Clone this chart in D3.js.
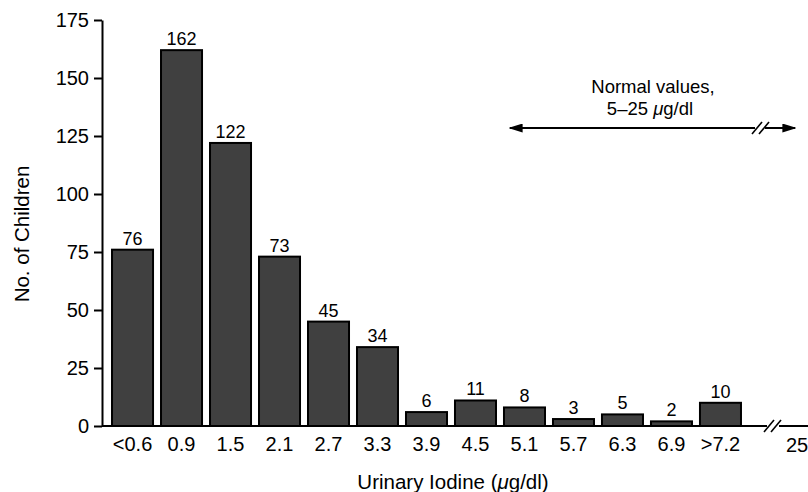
<!DOCTYPE html>
<html lang="en">
<head>
	<meta charset="utf-8">
	<title>Urinary iodine histogram</title>
	<script src="https://cdn.jsdelivr.net/npm/d3@7"></script>
	<style>
		body { margin: 0; background: #fff; }
		text { font-family: "Liberation Sans", Arial, Helvetica, sans-serif; fill: #000; }
	</style>
</head>
<body>
	<script>
  // chart data
  var categories = ["<0.6", "0.9", "1.5", "2.1", "2.7", "3.3", "3.9", "4.5", "5.1", "5.7", "6.3", "6.9", ">7.2"];
  var counts = [76, 162, 122, 73, 45, 34, 6, 11, 8, 3, 5, 2, 10];
  var yTicks = [0, 25, 50, 75, 100, 125, 150, 175];
  var breakLabel = "25";

  var width = 808;
  var height = 492;

  var svg = d3.select( "body" )
      .append( "svg" )
      .attr( "width", width )
      .attr( "height", height );

  var y = d3.scaleLinear()
    .domain( [0, 175] )
    .range( [426, 20] );

  var x = d3.scaleBand()
    .domain( categories )
    .range( [108, 745] )
    .paddingInner( 0.163 )
    .paddingOuter( 0.082 );

  // y axis
  var yAxis = svg.append( "g" )
    .attr( "transform", "translate(102,0)" )
    .call( d3.axisLeft( y ).tickValues( yTicks ).tickSize( 8 ).tickSizeOuter( 0 ).tickPadding( 5 ) );
  yAxis.selectAll( "path, line" ).attr( "stroke", "#000" ).attr( "stroke-width", 2 );
  yAxis.selectAll( "text" ).attr( "font-size", 20 ).attr( "font-family", null );

  // bars
  svg.append( "g" )
    .selectAll( "rect" )
    .data( counts )
    .enter()
    .append( "rect" )
    .attr( "x", function( d, i ) { return x( categories[i] ); } )
    .attr( "y", function( d ) { return y( d ); } )
    .attr( "width", x.bandwidth() )
    .attr( "height", function( d ) { return y( 0 ) - y( d ); } )
    .attr( "fill", "#404040" )
    .attr( "stroke", "#000" )
    .attr( "stroke-width", 2 );

  // value labels
  svg.append( "g" )
    .selectAll( "text" )
    .data( counts )
    .enter()
    .append( "text" )
    .attr( "x", function( d, i ) { return x( categories[i] ) + x.bandwidth() / 2; } )
    .attr( "y", function( d ) { return y( d ) - 5; } )
    .attr( "text-anchor", "middle" )
    .attr( "font-size", 18 )
    .text( function( d ) { return d; } );

  // x axis with a break before the last tick
  var xBreak = 772;
  var xAxis = svg.append( "g" )
    .attr( "transform", "translate(0,426)" )
    .call( d3.axisBottom( x ).tickSize( 0 ).tickPadding( 11 ) );
  xAxis.select( ".domain" ).remove();
  xAxis.selectAll( "text" ).attr( "font-size", 20 ).attr( "font-family", null );

  svg.append( "line" )
    .attr( "x1", 102 ).attr( "x2", xBreak - 5 )
    .attr( "y1", y( 0 ) ).attr( "y2", y( 0 ) )
    .attr( "stroke", "#000" ).attr( "stroke-width", 2 );
  svg.append( "line" )
    .attr( "x1", xBreak + 7 ).attr( "x2", width )
    .attr( "y1", y( 0 ) ).attr( "y2", y( 0 ) )
    .attr( "stroke", "#000" ).attr( "stroke-width", 2 );
  [-3, 4].forEach( function( dx ) {
    svg.append( "line" )
      .attr( "x1", xBreak + dx - 5 ).attr( "y1", y( 0 ) + 6 )
      .attr( "x2", xBreak + dx + 5 ).attr( "y2", y( 0 ) - 6 )
      .attr( "stroke", "#000" ).attr( "stroke-width", 1.6 );
  } );
  svg.append( "text" )
    .attr( "x", 797 ).attr( "y", 452 )
    .attr( "text-anchor", "middle" )
    .attr( "font-size", 20 )
    .text( breakLabel );

  // axis titles
  var xTitle = svg.append( "text" )
    .attr( "x", 453 ).attr( "y", 489 )
    .attr( "text-anchor", "middle" )
    .attr( "font-size", 20.5 );
  xTitle.append( "tspan" ).text( "Urinary Iodine (" );
  xTitle.append( "tspan" ).attr( "font-style", "italic" ).text( "\u03bc" );
  xTitle.append( "tspan" ).text( "g/dl)" );

  svg.append( "text" )
    .attr( "transform", "translate(29,234) rotate(-90)" )
    .attr( "text-anchor", "middle" )
    .attr( "font-size", 20.5 )
    .text( "No. of Children" );

  // normal range annotation
  var ay = 128;
  svg.append( "defs" ).append( "marker" )
    .attr( "id", "head" )
    .attr( "viewBox", "0 0 10 10" )
    .attr( "refX", 9 ).attr( "refY", 5 )
    .attr( "markerWidth", 14 ).attr( "markerHeight", 9 )
    .attr( "markerUnits", "userSpaceOnUse" )
    .attr( "orient", "auto-start-reverse" )
    .attr( "preserveAspectRatio", "none" )
    .append( "path" )
    .attr( "d", "M0,0L10,5L0,10Z" )
    .attr( "fill", "#000" );
  svg.append( "line" )
    .attr( "x1", 510 ).attr( "x2", 755 )
    .attr( "y1", ay ).attr( "y2", ay )
    .attr( "stroke", "#000" ).attr( "stroke-width", 2 )
    .attr( "marker-start", "url(#head)" );
  svg.append( "line" )
    .attr( "x1", 765 ).attr( "x2", 795 )
    .attr( "y1", ay ).attr( "y2", ay )
    .attr( "stroke", "#000" ).attr( "stroke-width", 2 )
    .attr( "marker-end", "url(#head)" );
  [-3, 4].forEach( function( dx ) {
    svg.append( "line" )
      .attr( "x1", 760 + dx - 5 ).attr( "y1", ay + 6 )
      .attr( "x2", 760 + dx + 5 ).attr( "y2", ay - 6 )
      .attr( "stroke", "#000" ).attr( "stroke-width", 1.6 );
  } );
  svg.append( "text" )
    .attr( "x", 653 ).attr( "y", 93 )
    .attr( "text-anchor", "middle" )
    .attr( "font-size", 18.5 )
    .text( "Normal values," );
  var line2 = svg.append( "text" )
    .attr( "x", 650 ).attr( "y", 115 )
    .attr( "text-anchor", "middle" )
    .attr( "font-size", 18.5 );
  line2.append( "tspan" ).text( "5\u201325 " );
  line2.append( "tspan" ).attr( "font-style", "italic" ).text( "\u03bc" );
  line2.append( "tspan" ).text( "g/dl" );
  </script>
</body>
</html>
